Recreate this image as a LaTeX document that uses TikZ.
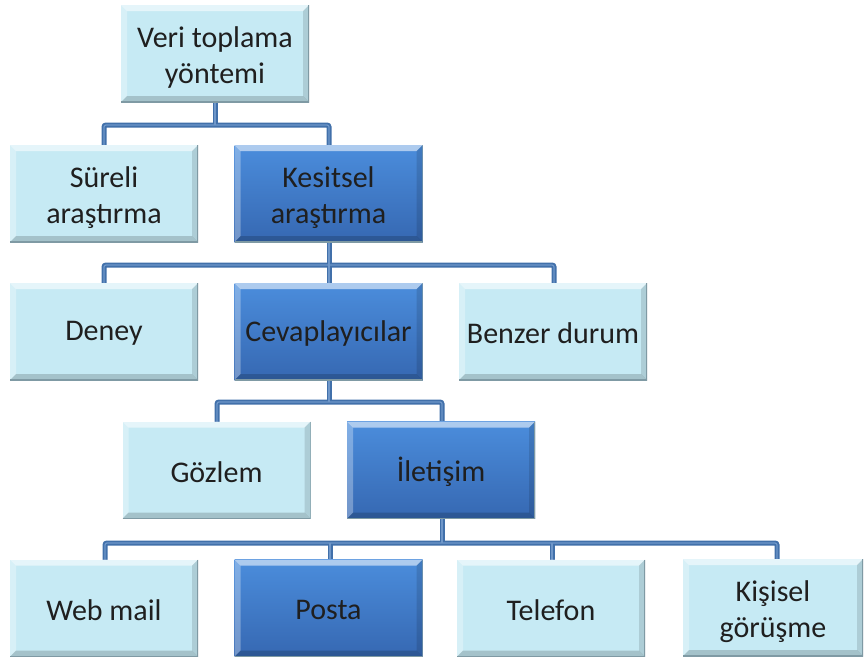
\documentclass[tikz,border=0pt]{standalone}
\usepackage{fontspec}
\setmainfont{Carlito}
\definecolor{lightfill}{HTML}{C6EAF4}
\definecolor{darktop}{HTML}{4B8DDC}
\definecolor{darkbot}{HTML}{3668B2}
\definecolor{connblue}{HTML}{4170AA}
\definecolor{connhi}{HTML}{6F97C9}
\definecolor{edgegray}{HTML}{7F9AA4}
\tikzset{
  bevel/.style={
    path picture={
      \def\bw{6pt}
      \fill[white,opacity=0.55] (path picture bounding box.north west) -- (path picture bounding box.north east)
        -- ([xshift=-\bw,yshift=-\bw]path picture bounding box.north east) -- ([xshift=\bw,yshift=-\bw]path picture bounding box.north west) -- cycle;
      \fill[white,opacity=0.3] (path picture bounding box.north west) -- (path picture bounding box.south west)
        -- ([xshift=\bw,yshift=\bw]path picture bounding box.south west) -- ([xshift=\bw,yshift=-\bw]path picture bounding box.north west) -- cycle;
      \fill[black,opacity=0.17] (path picture bounding box.south west) -- (path picture bounding box.south east)
        -- ([xshift=-\bw,yshift=\bw]path picture bounding box.south east) -- ([xshift=\bw,yshift=\bw]path picture bounding box.south west) -- cycle;
      \fill[black,opacity=0.12] (path picture bounding box.north east) -- (path picture bounding box.south east)
        -- ([xshift=-\bw,yshift=\bw]path picture bounding box.south east) -- ([xshift=-\bw,yshift=-\bw]path picture bounding box.north east) -- cycle;
      \draw[edgegray,line width=1.5pt] (path picture bounding box.north east) -- (path picture bounding box.south east) -- (path picture bounding box.south west);
    }},
  boxbase/.style={rectangle, inner sep=0pt, minimum width=188pt, minimum height=97pt, bevel},
  lightbox/.style={boxbase, fill=lightfill},
  darkbox/.style={boxbase, top color=darktop, bottom color=darkbot},
  lbl/.style={align=center, inner sep=0pt, text=black!88, font=\fontsize{30}{36}\selectfont},
  oneline/.style={label={[lbl,yshift=-2pt]center:#1}},
  twoline/.style={label={[lbl,yshift=-4pt]center:#1}},
  conn/.style={connblue, line width=5pt, rounded corners=2pt},
  connlight/.style={connhi, line width=1.2pt, rounded corners=2pt},
}
\begin{document}
\begin{tikzpicture}[x=1pt,y=-1pt]
\useasboundingbox[fill=white] (0,0) rectangle (864,659);

% bus lines between the levels
\coordinate (bus4) at (0,543);
\coordinate (kdrop) at (777,559);

% connectors (drawn first so the boxes sit on top)
\foreach \s in {conn,connlight}{
  \draw[\s] (215,102) -- (215,125);
  \draw[\s] (104,145) |- (329,125) -- (329,145);
  \draw[\s] (329,242) -- (329,265);
  \draw[\s] (104,283) |- (554,265) -- (554,283);
  \draw[\s] (329,265) -- (329,283);
  \draw[\s] (329,380) -- (329,402);
  \draw[\s] (217,422) |- (442,402) -- (442,422);
  \draw[\s] (442,518) -- (442,543);
  \draw[\s] (105,560) |- (kdrop |- bus4) -- (kdrop);
  \draw[\s] (330,543) -- (330,560);
  \draw[\s] (552,543) -- (552,560);
}

% level 1
\node[lightbox, twoline={Veri toplama\\yöntemi}] (veri) at (215,53.5) {};
% level 2
\node[lightbox, twoline={Süreli\\araştırma}] (sureli) at (104,193.5) {};
\node[darkbox, twoline={Kesitsel\\araştırma}] (kesitsel) at (328.5,193.5) {};
% level 3
\node[lightbox, oneline={Deney}] (deney) at (104,331.5) {};
\node[darkbox, oneline={Cevaplayıcılar}] (cevap) at (328.5,331.5) {};
\node[lightbox, oneline={Benzer durum}] (benzer) at (553,331.5) {};
% level 4
\node[lightbox, oneline={Gözlem}] (gozlem) at (216.5,470) {};
\node[darkbox, oneline={İletişim}] (iletisim) at (441,470) {};
% level 5
\node[lightbox, oneline={Web mail}] (webmail) at (104,608) {};
\node[darkbox, oneline={Posta}] (posta) at (328.5,608) {};
\node[lightbox, oneline={Telefon}] (telefon) at (551,608) {};
\node[lightbox, minimum width=180pt, twoline={Kişisel\\görüşme}] (kisisel) at (773,607.5) {};
\end{tikzpicture}
\end{document}
